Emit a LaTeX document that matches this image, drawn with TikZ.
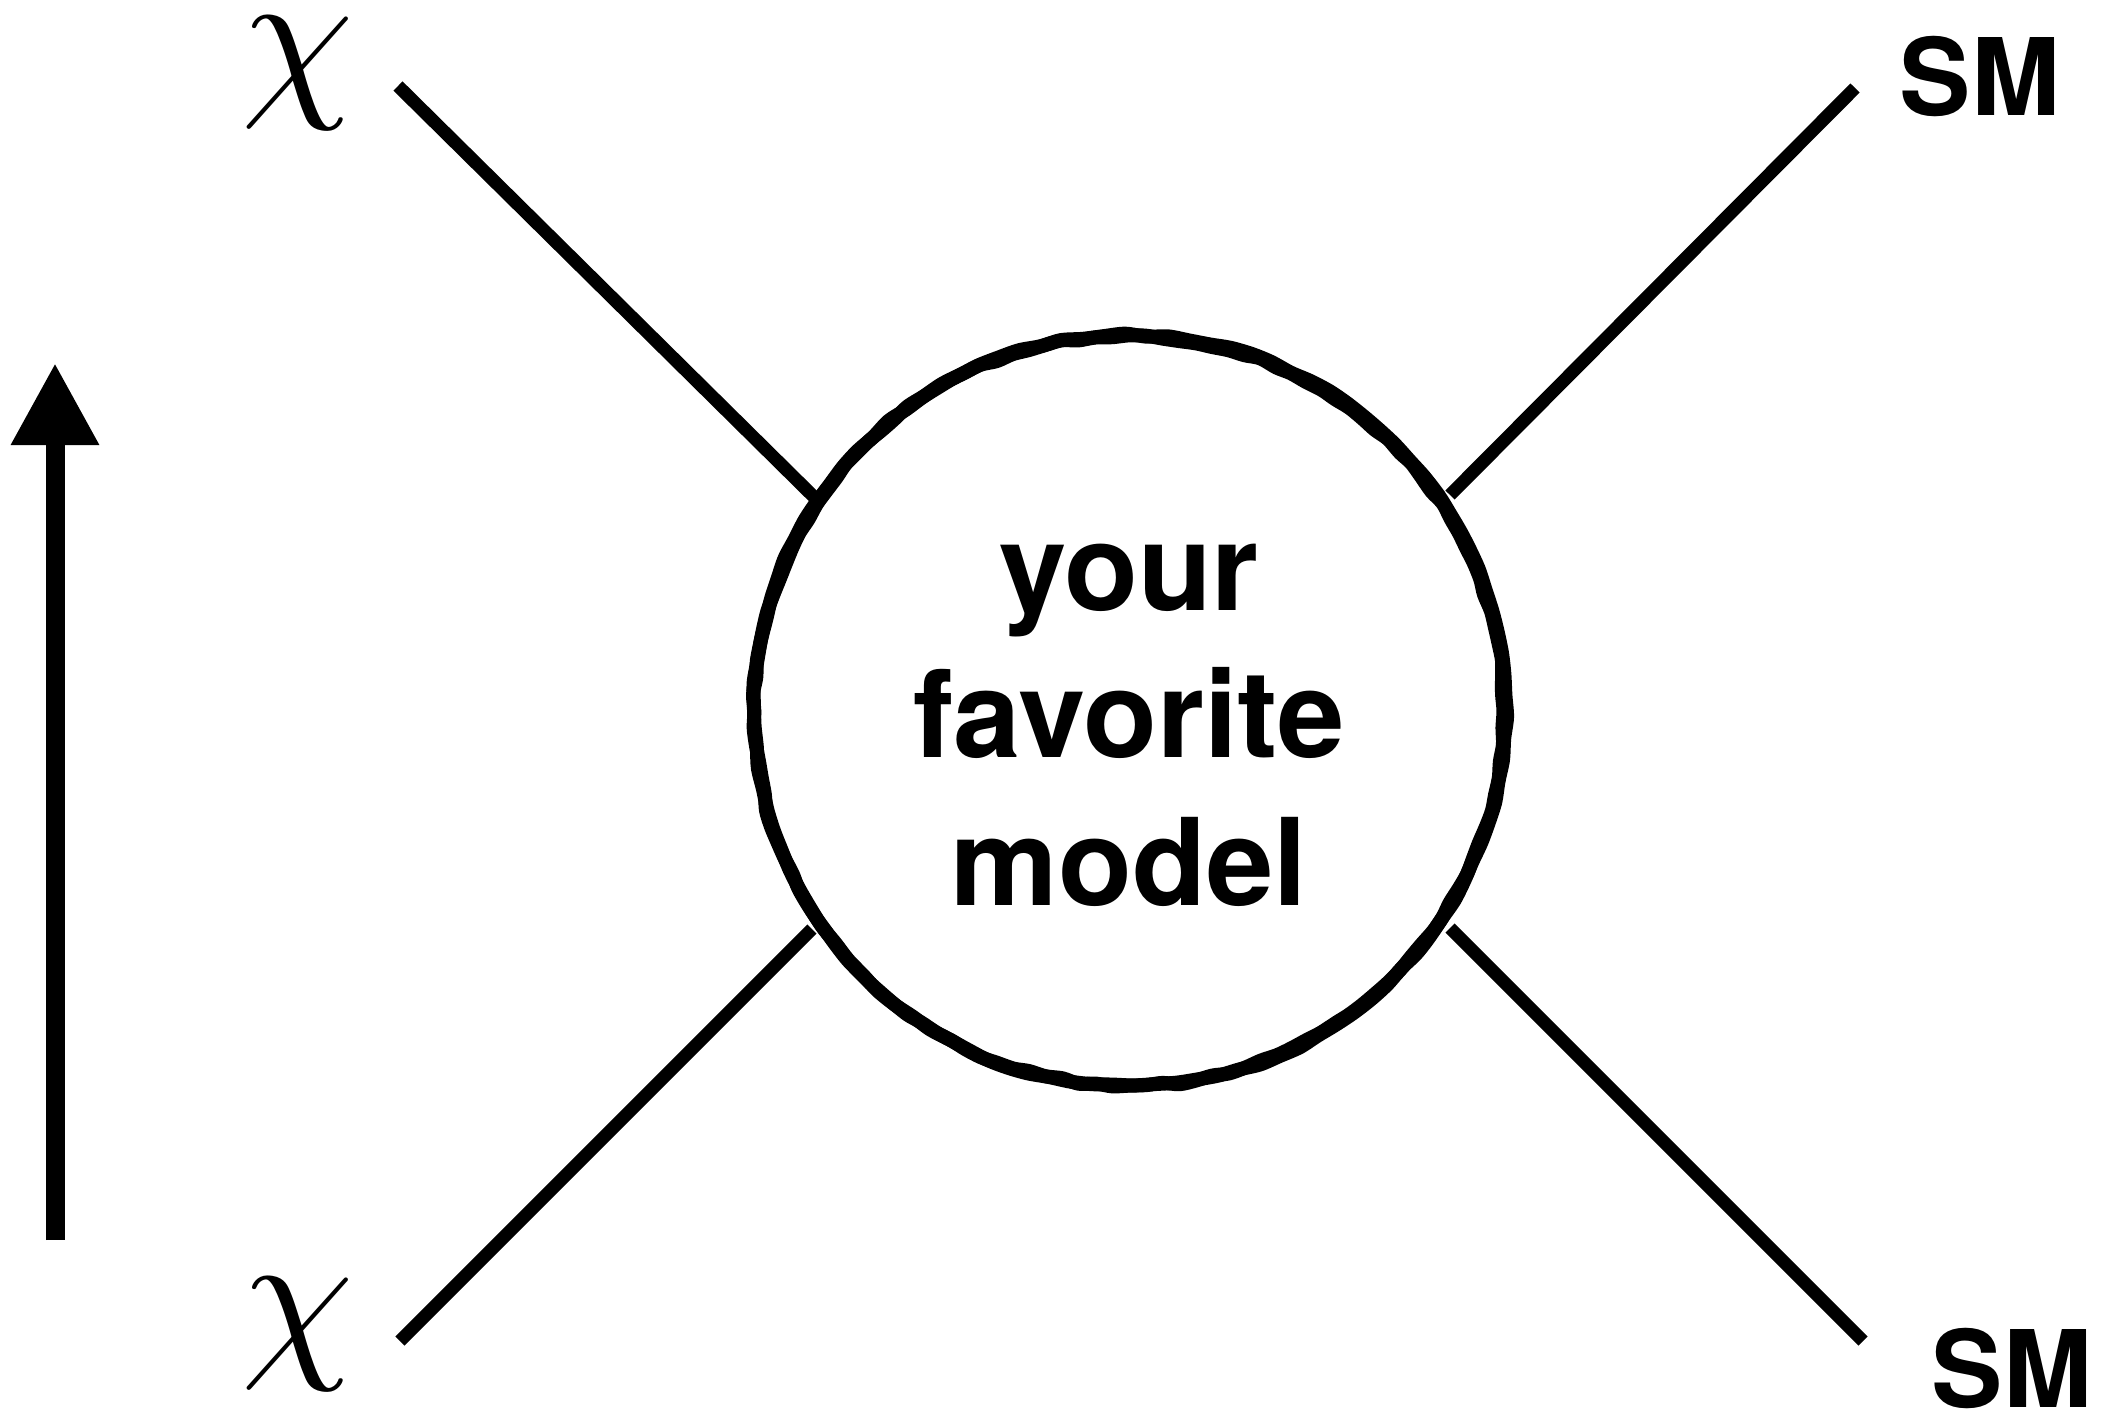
\documentclass[tikz,border=0pt]{standalone}
\usepackage{fontspec}
\setmainfont{TeX Gyre Heros}
\usetikzlibrary{arrows.meta}
\tikzset{
  leg/.style={line width=13pt, line cap=butt},
  blobline/.style={line width=14pt, line join=round},
  bigtext/.style={font=\bfseries\fontsize{121}{147}\selectfont, inner sep=0pt, anchor=base},
  smtext/.style={font=\bfseries\fontsize{107}{128}\selectfont, inner sep=0pt},
  chitext/.style={scale=18, inner sep=0pt},
}
\begin{document}
\begin{tikzpicture}[x=1pt,y=-1pt]
\useasboundingbox (0,0) rectangle (2102,1414);
% wobbly blob (two overlapping strokes for a brush-like edge)
\pgfmathsetseed{11}
\fill[white, shift={(1129,711)}] (0,0) circle[radius=375];
\draw[blobline, shift={(1129,711)}] plot[smooth cycle, samples=140, domain=0:357.4] ({\x}:{375+1.8*(2*rnd-1)});
\pgfmathsetseed{23}
\draw[blobline, shift={(1129.5,710.5)}] plot[smooth cycle, samples=110, domain=1:357.7] ({\x}:{376+1.8*(2*rnd-1)});
% labels
\node[chitext] (chiTop) at (298,73) {$\chi$};
\node[chitext] (chiBot) at (298,1334) {$\chi$};
\node[smtext] (smTop) at (1980,76) {SM};
\node[smtext] (smBot) at (2012,1368) {SM};
\node[bigtext] (l1) at (1129,610) {your};
\node[bigtext] (l2) at (1129,757) {favorite};
\node[bigtext] (l3) at (1129,905) {model};
% leg end points
\coordinate (tlOut) at (398,86);   \coordinate (tlIn) at (814,497);
\coordinate (trOut) at (1855,88);  \coordinate (trIn) at (1450,495);
\coordinate (blOut) at (400,1341); \coordinate (blIn) at (812,929);
\coordinate (brOut) at (1863,1341);\coordinate (brIn) at (1450,928);
\draw[leg] (tlOut) -- (tlIn);
\draw[leg] (trOut) -- (trIn);
\draw[leg] (blOut) -- (blIn);
\draw[leg] (brOut) -- (brIn);
% time arrow
\coordinate (arrBot) at (55,1240);
\coordinate (arrTop) at (55,363);
\draw[line width=19pt, -{Triangle[width=83pt,length=82pt]}] (arrBot) -- (arrTop);
\end{tikzpicture}
\end{document}
